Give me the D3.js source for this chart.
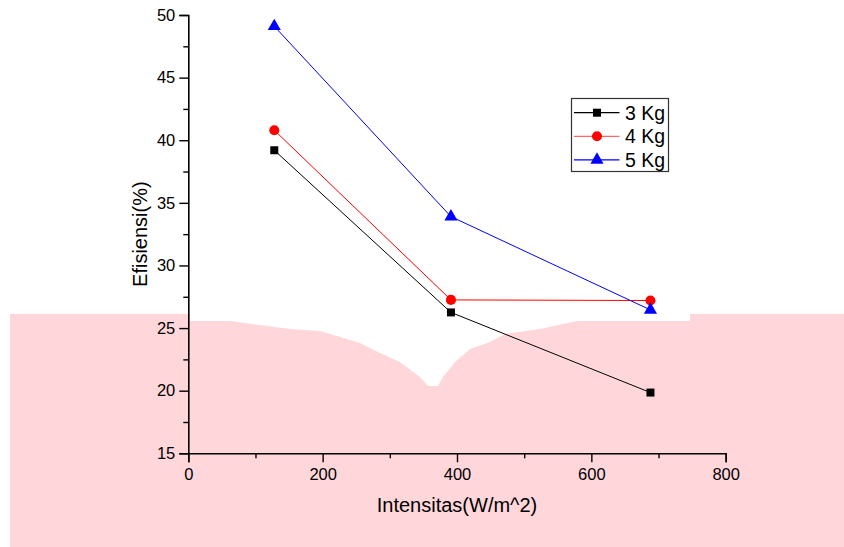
<!DOCTYPE html>
<html>
<head>
<meta charset="utf-8">
<script src="https://cdn.jsdelivr.net/npm/d3@7"></script>
<style>
  html, body { margin: 0; padding: 0; background: #fff; }
  svg { display: block; font-family: "Liberation Sans", Arial, sans-serif; }
</style>
</head>
<body>
<svg id="chart" width="844" height="547"></svg>
<script>
// ---- data ----
const intensities = [128, 391, 688];
const seriesNames = ["3 Kg", "4 Kg", "5 Kg"];
const eff3kg = [39.2, 26.25, 19.85];
const eff4kg = [40.8, 27.25, 27.2];
const eff5kg = [49.1, 33.9, 26.45];
const xTicks = [0, 200, 400, 600, 800];
const xMinorTicks = [100, 300, 500, 700];
const yTicks = [15, 20, 25, 30, 35, 40, 45, 50];
const yMinorTicks = [17.5, 22.5, 27.5, 32.5, 37.5, 42.5, 47.5];
const xTitle = "Intensitas(W/m^2)";
const yTitle = "Efisiensi(%)";

// background artifact shape in the reference picture (pixel outline)
const bgShape = [[10,314],[190,314],[190,321],[230,321],[260,325],[290,329],[320,331],[340,337],[360,343],[380,353],[400,362],[420,377],[428,386],[438,386],[443,377],[455,362],[470,349],[490,342],[505,334],[540,329],[577,321],[690,321],[690,314],[844,314],[844,547],[10,547]];

const series = [
  {name: seriesNames[0], values: eff3kg, color: "#000000", symbol: d3.symbolSquare, size: 64},
  {name: seriesNames[1], values: eff4kg, color: "#ff0000", symbol: d3.symbolCircle, size: 80},
  {name: seriesNames[2], values: eff5kg, color: "#0000ff", symbol: d3.symbolTriangle, size: 75}
];

const svg = d3.select("#chart");

svg.append("path")
  .attr("d", d3.line()(bgShape) + "Z")
  .attr("fill", "#ffd7db");

const x = d3.scaleLinear().domain([0, 800]).range([188.3, 725.7]);
const y = d3.scaleLinear().domain([15, 50]).range([453.3, 15]);

// y axis
const yAxis = svg.append("g").attr("transform", `translate(${x(0)},0)`)
  .call(d3.axisLeft(y).tickValues(yTicks).tickSize(9).tickPadding(4).tickFormat(d3.format("d")));
const yMinor = svg.append("g").attr("transform", `translate(${x(0)},0)`)
  .call(d3.axisLeft(y).tickValues(yMinorTicks).tickSize(5).tickFormat(""));
// x axis
const xAxis = svg.append("g").attr("transform", `translate(0,${y(15)})`)
  .call(d3.axisBottom(x).tickValues(xTicks).tickSize(9).tickPadding(6).tickFormat(d3.format("d")));
const xMinor = svg.append("g").attr("transform", `translate(0,${y(15)})`)
  .call(d3.axisBottom(x).tickValues(xMinorTicks).tickSize(5).tickFormat(""));
yMinor.select(".domain").remove();
xMinor.select(".domain").remove();

svg.selectAll(".domain").attr("stroke", "#000").attr("stroke-width", 1.6);
svg.selectAll(".tick line").attr("stroke", "#000").attr("stroke-width", 1.4);
svg.selectAll(".tick text").attr("font-size", 16.5).attr("fill", "#000")
  .attr("font-family", "Liberation Sans, Arial, sans-serif");

// axis titles
svg.append("text")
  .attr("x", (x(0) + x(800)) / 2)
  .attr("y", 512)
  .attr("text-anchor", "middle")
  .attr("font-size", 20)
  .attr("fill", "#000")
  .text(xTitle);
svg.append("text")
  .attr("transform", `translate(147,${(y(15) + y(50)) / 2}) rotate(-90)`)
  .attr("text-anchor", "middle")
  .attr("font-size", 20)
  .attr("fill", "#000")
  .text(yTitle);

// lines + markers
const line = d3.line().x((d, i) => x(intensities[i])).y(d => y(d));
series.forEach(s => {
  svg.append("path").attr("d", line(s.values))
    .attr("fill", "none").attr("stroke", s.color).attr("stroke-width", 1);
  svg.selectAll(null).data(s.values).enter().append("path")
    .attr("d", d3.symbol().type(s.symbol).size(s.size))
    .attr("transform", (d, i) => `translate(${x(intensities[i])},${y(d)})`)
    .attr("fill", s.color);
});

// legend
const legend = svg.append("g");
legend.append("rect").attr("x", 571.5).attr("y", 98.5).attr("width", 97).attr("height", 73)
  .attr("fill", "#fff").attr("stroke", "#333").attr("stroke-width", 1.2);
series.forEach((s, i) => {
  const cy = 112.7 + i * 23.6;
  legend.append("line").attr("x1", 574).attr("x2", 619.5).attr("y1", cy).attr("y2", cy)
    .attr("stroke", i === 1 ? "#ff6666" : s.color).attr("stroke-width", 1.2);
  legend.append("path").attr("d", d3.symbol().type(s.symbol).size(s.size))
    .attr("transform", `translate(597,${cy})`).attr("fill", s.color);
  legend.append("text").attr("x", 625).attr("y", cy + 7).attr("font-size", 19.5)
    .attr("fill", "#000").text(s.name);
});
</script>
</body>
</html>
